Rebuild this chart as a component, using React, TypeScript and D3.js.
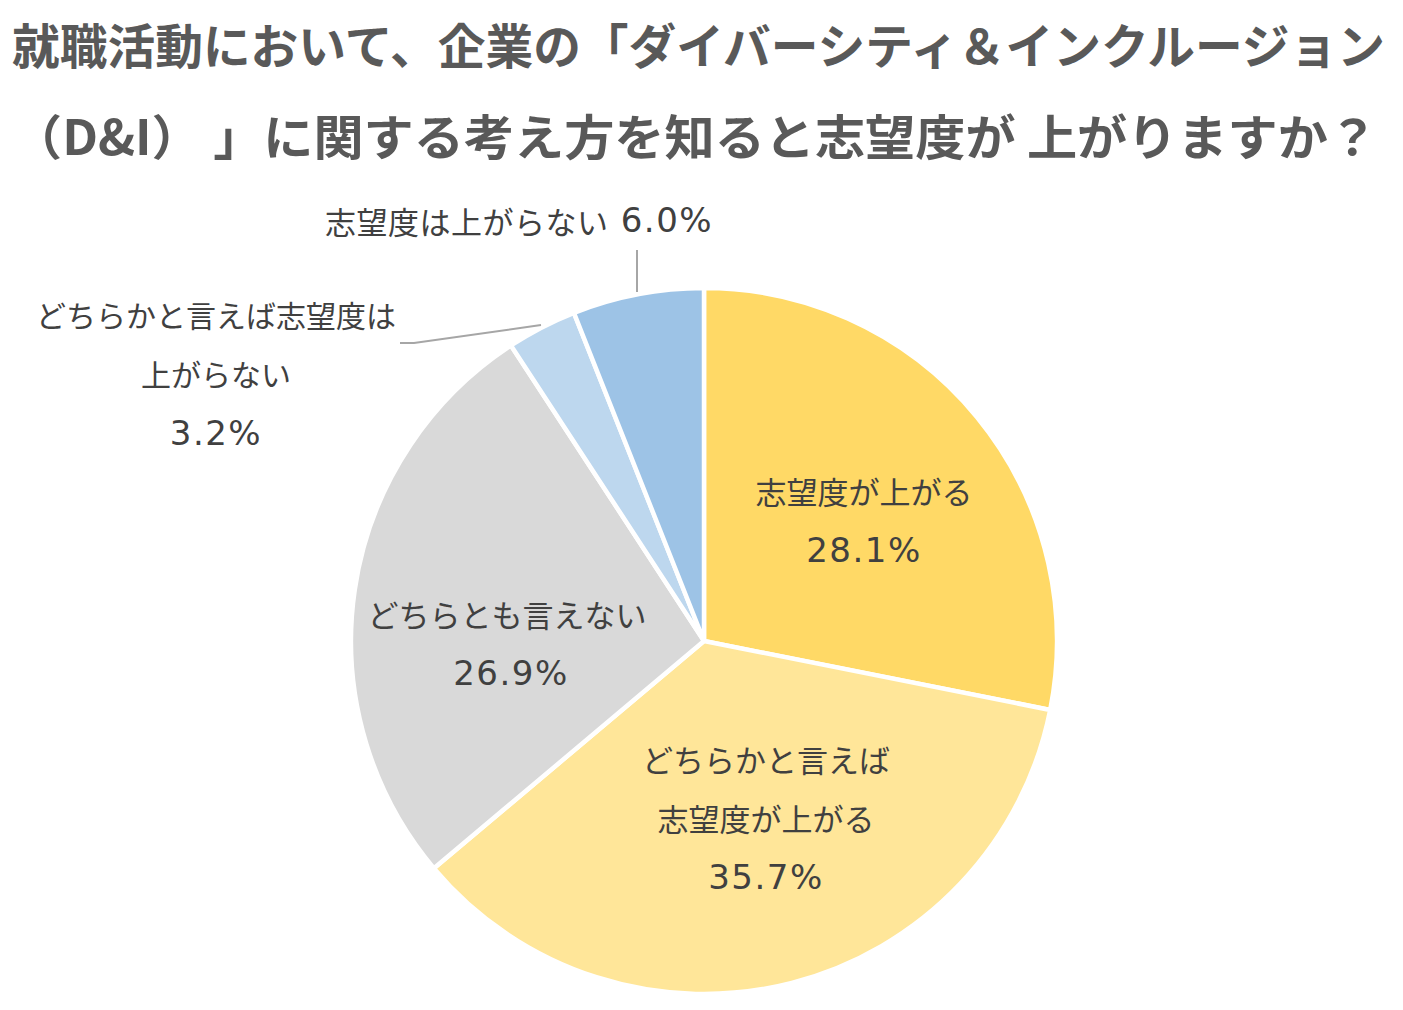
import React from "react";
import * as d3 from "d3";

const categories = [
  "志望度が上がる",
  "どちらかと言えば志望度が上がる",
  "どちらとも言えない",
  "どちらかと言えば志望度は上がらない",
  "志望度は上がらない",
];
const values = [28.1, 35.7, 26.9, 3.2, 6.0];
const colors = ["#FFD966", "#FFE699", "#D9D9D9", "#BDD7EE", "#9DC3E6"];
const labelLines = [
  ["志望度が上がる"],
  ["どちらかと言えば", "志望度が上がる"],
  ["どちらとも言えない"],
  ["どちらかと言えば志望度は", "上がらない"],
  ["志望度は上がらない"],
];
const titleLines = [
  "就職活動において、企業の「ダイバーシティ＆インクルージョン",
  "（D&I） 」に関する考え方を知ると志望度が 上がりますか？",
];

const W = 1403;
const H = 1010;
const cx = 704;
const cy = 641;
const R = 353;

const JP = "'Noto Sans CJK JP', 'Noto Sans', sans-serif";
const NUM = "'DejaVu Sans', sans-serif";
const TXT = "#404040";

export default function App() {
  const pie = d3
    .pie<number>()
    .sort(null)
    .value((d) => d)
    .startAngle(0)
    .endAngle(2 * Math.PI);
  const arcs = pie(values);
  const arcGen = d3.arc<d3.PieArcDatum<number>>().innerRadius(0).outerRadius(R);

  const labelPos: [number, number][] = [
    [864, 490],
    [766, 758],
    [507, 613],
    [216, 314],
    [519, 220],
  ];
  const lineGap = 59;
  const fmt = (v: number) => v.toFixed(1) + "%";

  return (
    <svg width={W} height={H} style={{ display: "block", position: "absolute", left: 0, top: 0 }}>
      <rect width={W} height={H} fill="#ffffff" />
      {titleLines.map((t, i) => (
        <text
          key={i}
          x={12}
          y={i === 0 ? 43 : 134}
          dominantBaseline="central"
          fontFamily={JP}
          fontWeight={700}
          fontSize={48}
          fill="#595959"
          textLength={i === 0 ? 1373 : 1366}
          lengthAdjust="spacingAndGlyphs"
        >
          {t}
        </text>
      ))}
      <g transform={`translate(${cx},${cy})`}>
        {arcs.map((a, i) => (
          <path key={categories[i]} d={arcGen(a) || ""} fill={colors[i]} stroke="#ffffff" strokeWidth={4.5} strokeLinejoin="round" />
        ))}
      </g>
      <polyline points="637,250 637,292" fill="none" stroke="#A6A6A6" strokeWidth={2} />
      <polyline points="400,343 414,343 541,325" fill="none" stroke="#A6A6A6" strokeWidth={2} />
      {labelLines.map((lines, i) => {
        const [lx, ly] = labelPos[i];
        if (i === 4) {
          return (
            <text key={i} x={lx} y={ly} textAnchor="middle" dominantBaseline="central" fill={TXT} fontSize={31} fontFamily={JP} letterSpacing={0.5}>
              {lines[0]}
              <tspan fontFamily={NUM} fontSize={34} letterSpacing={1.5}>{" " + fmt(values[i])}</tspan>
            </text>
          );
        }
        return (
          <g key={i}>
            {lines.map((l, j) => (
              <text key={j} x={lx} y={ly + j * lineGap} textAnchor="middle" dominantBaseline="central" fill={TXT} fontSize={i === 3 ? 30 : 31} fontFamily={JP}>
                {l}
              </text>
            ))}
            <text
              x={lx + (i === 2 ? 4 : 0)}
              y={ly + lines.length * lineGap + 1}
              textAnchor="middle"
              dominantBaseline="central"
              fill={TXT}
              fontSize={34}
              fontFamily={NUM}
              letterSpacing={1.5}
            >
              {fmt(values[i])}
            </text>
          </g>
        );
      })}
    </svg>
  );
}
